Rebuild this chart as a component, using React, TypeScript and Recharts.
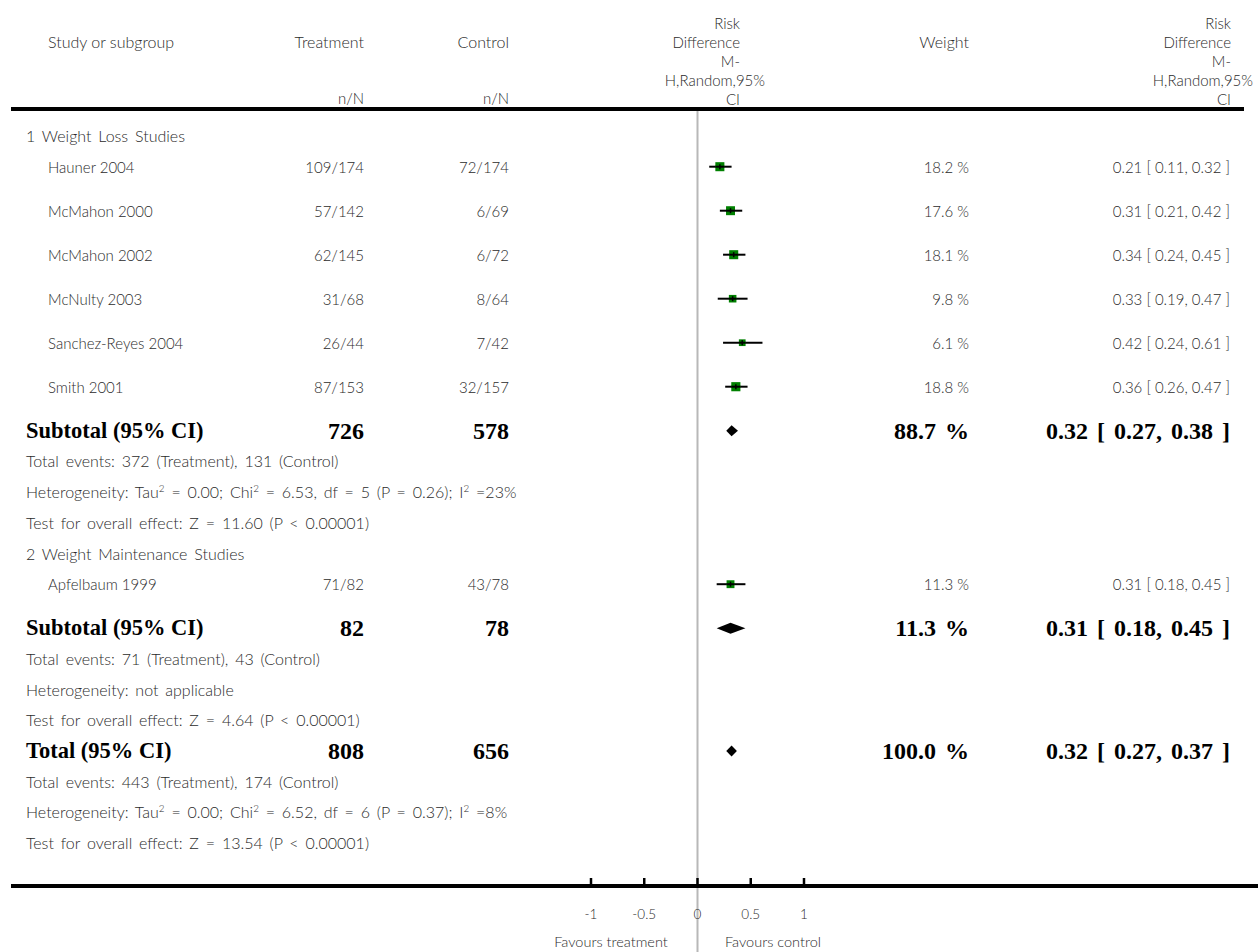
import React from "react";
import {
  ScatterChart,
  Scatter,
  ErrorBar,
  XAxis,
  YAxis,
  ReferenceLine,
  ReferenceArea,
} from "recharts";

// ---- data ----
const groupNames = ["1 Weight Loss Studies", "2 Weight Maintenance Studies"];

const studyNames = [
  "Hauner 2004",
  "McMahon 2000",
  "McMahon 2002",
  "McNulty 2003",
  "Sanchez-Reyes 2004",
  "Smith 2001",
  "Apfelbaum 1999",
];
const studyGroup = [0, 0, 0, 0, 0, 0, 1];
const treatmentEvents = ["109/174", "57/142", "62/145", "31/68", "26/44", "87/153", "71/82"];
const controlEvents = ["72/174", "6/69", "6/72", "8/64", "7/42", "32/157", "43/78"];
const studyWeight = [18.2, 17.6, 18.1, 9.8, 6.1, 18.8, 11.3];
const studyRd = [0.21, 0.31, 0.34, 0.33, 0.42, 0.36, 0.31];
const studyLow = [0.11, 0.21, 0.24, 0.19, 0.24, 0.26, 0.18];
const studyHigh = [0.32, 0.42, 0.45, 0.47, 0.61, 0.47, 0.45];

const pooledLabel = ["Subtotal (95% CI)", "Subtotal (95% CI)", "Total (95% CI)"];
const pooledTreatment = [726, 82, 808];
const pooledControl = [578, 78, 656];
const pooledWeight = [88.7, 11.3, 100.0];
const pooledRd = [0.32, 0.31, 0.32];
const pooledLow = [0.27, 0.18, 0.27];
const pooledHigh = [0.38, 0.45, 0.37];

const groupNotes = [
  [
    "Total events: 372 (Treatment), 131 (Control)",
    "Heterogeneity: Tau^2 = 0.00; Chi^2 = 6.53, df = 5 (P = 0.26); I^2 =23%",
    "Test for overall effect: Z = 11.60 (P < 0.00001)",
  ],
  [
    "Total events: 71 (Treatment), 43 (Control)",
    "Heterogeneity: not applicable",
    "Test for overall effect: Z = 4.64 (P < 0.00001)",
  ],
];
const totalNotes = [
  "Total events: 443 (Treatment), 174 (Control)",
  "Heterogeneity: Tau^2 = 0.00; Chi^2 = 6.52, df = 6 (P = 0.37); I^2 =8%",
  "Test for overall effect: Z = 13.54 (P < 0.00001)",
];

const axisTicks = [-1, -0.5, 0, 0.5, 1];
const axisTickLabels = ["-1", "-0.5", "0", "0.5", "1"];
const rdHeader = ["Risk", "Difference", "M-", "H,Random,95%", "CI"];

// ---- layout ----
const W = 1258;
const H = 952;
const ZERO_X = 697.5;
const UNIT_PX = 106.5;
const TOP_RULE = 110;
const BOTTOM_RULE = 886;
const FIRST_ROW_Y = 136;
const STUDY_GAP = 44;
const TEXT_GAP = 30.7;

const COL_NAME = 48;
const COL_GROUP = 26;
const COL_TREAT = 364;
const COL_CTRL = 509;
const COL_WEIGHT = 969;
const COL_CI = 1230;

const FONT = "Lato, 'Open Sans', sans-serif";
const BOLD_FONT = "'Liberation Serif', 'Times New Roman', serif";
const TEXT_COLOR = "#2b2b2b";

type Row =
  | { kind: "group"; text: string }
  | { kind: "study"; idx: number }
  | { kind: "pooled"; idx: number }
  | { kind: "note"; text: string };

const rows: Row[] = [];
groupNames.forEach((g, gi) => {
  rows.push({ kind: "group", text: g });
  studyGroup.forEach((sg, i) => {
    if (sg === gi) rows.push({ kind: "study", idx: i });
  });
  rows.push({ kind: "pooled", idx: gi });
  groupNotes[gi].forEach((t) => rows.push({ kind: "note", text: t }));
});
rows.push({ kind: "pooled", idx: 2 });
totalNotes.forEach((t) => rows.push({ kind: "note", text: t }));

const rowY: number[] = [];
rows.forEach((r, i) => {
  if (i === 0) rowY.push(FIRST_ROW_Y);
  else rowY.push(rowY[i - 1] + (rows[i - 1].kind === "study" ? STUDY_GAP : TEXT_GAP));
});

const studyData = rows
  .map((r, i) => ({ r, y: rowY[i] }))
  .filter((d) => d.r.kind === "study")
  .map(({ r, y }) => {
    const i = (r as { idx: number }).idx;
    return {
      name: studyNames[i],
      x: studyRd[i],
      y,
      w: studyWeight[i],
      err: [studyRd[i] - studyLow[i], studyHigh[i] - studyRd[i]],
    };
  });

const pooledData = rows
  .map((r, i) => ({ r, y: rowY[i] }))
  .filter((d) => d.r.kind === "pooled")
  .map(({ r, y }) => {
    const i = (r as { idx: number }).idx;
    return { y, est: pooledRd[i], low: pooledLow[i], high: pooledHigh[i] };
  });

const fmt2 = (v: number) => v.toFixed(2);
const ciText = (e: number, l: number, h: number) => `${fmt2(e)} [ ${fmt2(l)}, ${fmt2(h)} ]`;

const withSup = (s: string) =>
  s.split("^2").flatMap((part, i) =>
    i === 0
      ? [part]
      : [
          <sup key={i} style={{ fontSize: "0.62em", lineHeight: 0 }}>
            2
          </sup>,
          part,
        ]
  );

const Txt = ({
  x,
  y,
  align = "left",
  style,
  children,
}: {
  x: number;
  y: number;
  align?: "left" | "right" | "center";
  style?: React.CSSProperties;
  children: React.ReactNode;
}) => {
  const base: React.CSSProperties = {
    position: "absolute",
    top: y - 12,
    height: 24,
    lineHeight: "24px",
    whiteSpace: "nowrap",
  };
  if (align === "left") base.left = x;
  else if (align === "right") base.right = W - x;
  else {
    base.left = x - 200;
    base.width = 400;
    base.textAlign = "center";
  }
  return <div style={{ ...base, ...style }}>{children}</div>;
};

// green box with the point estimate tick; CI line comes from ErrorBar
const StudyMarker = (props: any) => {
  const { cx, cy, payload } = props;
  const s = 3.5 + 1.3 * Math.sqrt(payload.w);
  return (
    <g>
      <rect x={cx - s / 2} y={cy - s / 2} width={s} height={s} fill="#008000" />
      <line x1={cx - s / 2} x2={cx + s / 2} y1={cy} y2={cy} stroke="#000" strokeWidth={2} />
      <line x1={cx} x2={cx} y1={cy - 2.5} y2={cy + 2.5} stroke="#000" strokeWidth={1.5} />
    </g>
  );
};

const diamondShape = (est: number, low: number, high: number) => (props: any) => {
  const { x, y, width, height } = props;
  const ex = x + (width * (est - low)) / (high - low);
  const pts = `${x},${y + height / 2} ${ex},${y} ${x + width},${y + height / 2} ${ex},${y + height}`;
  return <polygon points={pts} fill="#000" />;
};

const AxisTick = (props: any) => {
  const { x, y, payload } = props;
  const label = axisTickLabels[axisTicks.indexOf(payload.value)];
  return (
    <g>
      <line x1={x} x2={x} y1={y - 8} y2={y} stroke="#000" strokeWidth={2.5} />
      <text
        x={x}
        y={y + 28}
        textAnchor="middle"
        dominantBaseline="central"
        fontSize={13.5}
        fontFamily={FONT}
        fontWeight={300}
        fill={TEXT_COLOR}
      >
        {label}
      </text>
    </g>
  );
};

const App = () => {
  const plotLeft = ZERO_X - UNIT_PX;
  const plotRight = ZERO_X + UNIT_PX;
  const boldLabel: React.CSSProperties = {
    fontFamily: BOLD_FONT,
    fontWeight: 700,
    fontSize: 22.5,
    color: "#000",
  };
  const boldNum: React.CSSProperties = { ...boldLabel, fontSize: 24, wordSpacing: 3 };
  const wide: React.CSSProperties = { fontSize: 16, wordSpacing: 2.5 };

  return (
    <div
      style={{
        position: "absolute",
        left: 0,
        top: 0,
        width: W,
        height: H,
        background: "#fff",
        fontFamily: FONT,
        fontSize: 15,
        fontWeight: 300,
        color: TEXT_COLOR,
        overflow: "hidden",
      }}
    >
      <ScatterChart
        width={W}
        height={H}
        margin={{ top: TOP_RULE, left: plotLeft, right: W - plotRight, bottom: 0 }}
      >
        <XAxis
          type="number"
          dataKey="x"
          domain={[-1, 1]}
          allowDataOverflow
          ticks={axisTicks}
          height={H - BOTTOM_RULE}
          axisLine={false}
          tickLine={false}
          tickSize={0}
          tickMargin={0}
          tick={<AxisTick />}
          interval={0}
        />
        <YAxis type="number" dataKey="y" domain={[TOP_RULE, BOTTOM_RULE]} reversed hide />
        <ReferenceLine
          x={0}
          stroke="#b8b8b8"
          strokeWidth={2}
          shape={(p: any) => (
            <line
              x1={p.x1}
              x2={p.x2}
              y1={Math.min(p.y1, p.y2)}
              y2={H}
              stroke="#b8b8b8"
              strokeWidth={2}
            />
          )}
        />
        {pooledData.map((d, i) => (
          <ReferenceArea
            key={`pool-${i}`}
            x1={d.low}
            x2={d.high}
            y1={d.y - 5.5}
            y2={d.y + 5.5}
            shape={diamondShape(d.est, d.low, d.high)}
          />
        ))}
        <Scatter data={studyData} shape={<StudyMarker />} isAnimationActive={false}>
          <ErrorBar
            dataKey="err"
            direction="x"
            width={0}
            stroke="#000"
            strokeWidth={2}
            isAnimationActive={false}
          />
        </Scatter>
      </ScatterChart>

      {/* table rules */}
      <div style={{ position: "absolute", left: 11, width: 1233, top: TOP_RULE - 3, height: 4, background: "#000" }} />
      <div style={{ position: "absolute", left: 11, width: 1247, top: BOTTOM_RULE - 2, height: 4, background: "#000" }} />

      {/* header */}
      <Txt x={COL_NAME} y={42} style={{ fontSize: 16 }}>Study or subgroup</Txt>
      <Txt x={COL_TREAT} y={42} align="right" style={{ fontSize: 16 }}>Treatment</Txt>
      <Txt x={COL_CTRL} y={42} align="right" style={{ fontSize: 16 }}>Control</Txt>
      <Txt x={COL_TREAT} y={98} align="right">n/N</Txt>
      <Txt x={COL_CTRL} y={98} align="right">n/N</Txt>
      <Txt x={COL_WEIGHT} y={42} align="right" style={{ fontSize: 16 }}>Weight</Txt>
      {rdHeader.map((t, i) => (
        <React.Fragment key={t}>
          <Txt x={i === 3 ? 765 : 740} y={23 + i * 19} align="right">{t}</Txt>
          <Txt x={i === 3 ? 1253 : 1231} y={23 + i * 19} align="right">{t}</Txt>
        </React.Fragment>
      ))}

      {/* body rows */}
      {rows.map((r, i) => {
        const y = rowY[i];
        if (r.kind === "group")
          return <Txt key={i} x={COL_GROUP} y={y} style={wide}>{r.text}</Txt>;
        if (r.kind === "note")
          return <Txt key={i} x={COL_GROUP} y={y} style={wide}>{withSup(r.text)}</Txt>;
        if (r.kind === "study") {
          const k = r.idx;
          return (
            <React.Fragment key={i}>
              <Txt x={COL_NAME} y={y}>{studyNames[k]}</Txt>
              <Txt x={COL_TREAT} y={y} align="right">{treatmentEvents[k]}</Txt>
              <Txt x={COL_CTRL} y={y} align="right">{controlEvents[k]}</Txt>
              <Txt x={COL_WEIGHT} y={y} align="right">{`${studyWeight[k].toFixed(1)} %`}</Txt>
              <Txt x={COL_CI} y={y} align="right">{ciText(studyRd[k], studyLow[k], studyHigh[k])}</Txt>
            </React.Fragment>
          );
        }
        const k = r.idx;
        return (
          <React.Fragment key={i}>
            <Txt x={COL_GROUP} y={y} style={boldLabel}>{pooledLabel[k]}</Txt>
            <Txt x={COL_TREAT} y={y} align="right" style={boldNum}>{pooledTreatment[k]}</Txt>
            <Txt x={COL_CTRL} y={y} align="right" style={boldNum}>{pooledControl[k]}</Txt>
            <Txt x={COL_WEIGHT} y={y} align="right" style={boldNum}>
              {`${pooledWeight[k].toFixed(1)} %`}
            </Txt>
            <Txt x={COL_CI} y={y} align="right" style={boldNum}>
              {ciText(pooledRd[k], pooledLow[k], pooledHigh[k])}
            </Txt>
          </React.Fragment>
        );
      })}

      {/* axis captions */}
      <Txt x={611} y={942} align="center" style={{ fontSize: 14.5 }}>Favours treatment</Txt>
      <Txt x={773} y={942} align="center" style={{ fontSize: 14.5 }}>Favours control</Txt>
    </div>
  );
};

export default App;
